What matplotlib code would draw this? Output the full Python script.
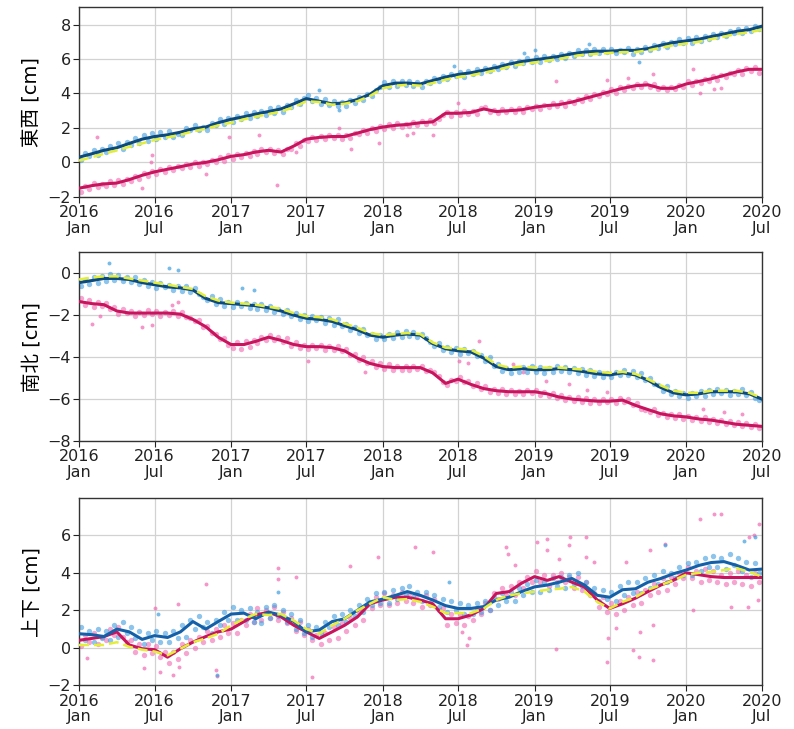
import numpy as np
import pandas as pd
import matplotlib
matplotlib.use("Agg")
import matplotlib.pyplot as plt

plt.rcParams['font.family'] = ['DejaVu Sans', 'Noto Sans CJK JP']

# monthly smoothed values, Jan 2016 .. Jul 2020
months = pd.date_range('2016-01-01', '2020-07-01', freq='MS')
# scattered daily solutions, sampled on the 5th, 15th and 25th, Jan 2016 .. Jun 2020
obs_dates = pd.DatetimeIndex([m + pd.Timedelta(days=d) for m in months[:-1] for d in (4, 14, 24)])

tick_dates = pd.date_range('2016-01-01', '2020-07-01', freq='6MS')
tick_labels = [f"{d.year}\n{d.strftime('%b')}" for d in tick_dates]

ylabels = ['東西 [cm]', '南北 [cm]', '上下 [cm]']

# ---- 東西 ----
ew_blue_line = [0.3, 0.5, 0.7, 0.85, 1.1, 1.35, 1.5, 1.6, 1.75, 1.95, 2.05, 2.3,
                2.5, 2.65, 2.8, 2.95, 3.1, 3.4, 3.7, 3.55, 3.4, 3.45, 3.65, 3.95,
                4.45, 4.6, 4.6, 4.55, 4.75, 4.95, 5.1, 5.2, 5.35, 5.5, 5.7, 5.85,
                5.95, 6.05, 6.15, 6.3, 6.4, 6.45, 6.45, 6.5, 6.5, 6.6, 6.8, 6.95,
                7.05, 7.15, 7.3, 7.45, 7.6, 7.7, 7.9]
ew_yellow_line = [0.1, 0.3, 0.5, 0.7, 0.9, 1.1, 1.3, 1.45, 1.6, 1.8, 1.95, 2.15,
                  2.3, 2.5, 2.65, 2.8, 2.95, 3.2, 3.55, 3.5, 3.35, 3.4, 3.55, 3.85,
                  4.3, 4.45, 4.5, 4.45, 4.6, 4.8, 4.95, 5.05, 5.2, 5.35, 5.55, 5.7,
                  5.8, 5.9, 6.0, 6.15, 6.25, 6.3, 6.35, 6.4, 6.4, 6.5, 6.65, 6.8,
                  6.9, 7.0, 7.15, 7.3, 7.45, 7.55, 7.7]
ew_pink_line = [-1.5, -1.35, -1.25, -1.2, -1.0, -0.75, -0.55, -0.4, -0.25, -0.1, 0.0, 0.15,
                0.35, 0.45, 0.6, 0.7, 0.6, 0.95, 1.35, 1.45, 1.5, 1.5, 1.7, 1.9,
                2.05, 2.15, 2.2, 2.3, 2.35, 2.85, 2.85, 2.9, 3.1, 2.95, 3.0, 3.05,
                3.2, 3.3, 3.35, 3.5, 3.7, 3.9, 4.1, 4.3, 4.45, 4.5, 4.3, 4.3,
                4.55, 4.7, 4.85, 5.05, 5.25, 5.4, 5.4]
ew_blue_pts = [0.15, 0.55, 0.35, 0.7, 0.45, 0.8, 0.6, 0.95, 0.75, 1.1, 0.8, 1.2, 1.0, 1.4, 1.15, 1.6, 1.25, 1.7,
               1.35, 1.75, 1.45, 1.8, 1.5, 1.65, 1.6, 2.0, 1.85, 2.15, 1.85, 2.05, 1.9, 2.3, 2.15, 2.5, 2.2, 2.6,
               2.35, 2.7, 2.5, 2.85, 2.55, 2.9, 2.7, 3.0, 2.75, 3.15, 2.85, 3.2, 2.95, 3.35, 3.2, 3.6, 3.4, 3.75,
               3.9, 3.55, 3.75, 3.4, 3.65, 3.35, 3.55, 3.25, 3.5, 3.3, 3.6, 3.45, 3.8, 3.6, 3.95, 3.85, 4.2, 4.35,
               4.65, 4.4, 4.7, 4.45, 4.75, 4.5, 4.7, 4.45, 4.65, 4.4, 4.7, 4.6, 4.9, 4.7, 5.0, 4.85, 5.15, 5.0,
               5.25, 4.95, 5.3, 5.1, 5.4, 5.2, 5.5, 5.3, 5.6, 5.4, 5.7, 5.55, 5.85, 5.6, 5.9, 5.75, 6.05, 5.85,
               6.1, 5.85, 6.15, 5.95, 6.2, 6.0, 6.3, 6.05, 6.35, 6.2, 6.5, 6.3, 6.55, 6.3, 6.6, 6.35, 6.6, 6.4,
               6.6, 6.35, 6.55, 6.4, 6.65, 6.3, 6.6, 6.4, 6.7, 6.5, 6.8, 6.65, 6.95, 6.7, 7.0, 6.85, 7.15, 6.95,
               7.2, 6.95, 7.25, 7.05, 7.35, 7.15, 7.45, 7.25, 7.5, 7.35, 7.65, 7.5, 7.75, 7.5, 7.8, 7.6, 7.9, 7.75]
ew_pink_pts = [-1.7, -1.35, -1.55, -1.2, -1.45, -1.25, -1.35, -1.1, -1.3, -1.05, -1.25, -0.95, -1.1, -0.8, -0.95, -0.6, -0.8, -0.5,
               -0.65, -0.4, -0.55, -0.25, -0.45, -0.2, -0.35, -0.1, -0.25, 0.0, -0.2, 0.05, -0.1, 0.15, 0.0, 0.3, 0.1, 0.4,
               0.2, 0.5, 0.3, 0.55, 0.35, 0.65, 0.5, 0.75, 0.6, 0.8, 0.55, 0.7, 0.5, 0.8, 0.75, 1.1, 0.95, 1.3,
               1.25, 1.5, 1.3, 1.55, 1.35, 1.6, 1.4, 1.6, 1.35, 1.6, 1.4, 1.7, 1.65, 1.85, 1.7, 2.0, 1.8, 2.1,
               1.95, 2.2, 2.0, 2.3, 2.05, 2.25, 2.1, 2.35, 2.15, 2.4, 2.2, 2.45, 2.3, 2.5, 2.75, 2.95, 2.7, 2.9,
               2.75, 3.0, 2.8, 3.0, 2.8, 3.15, 3.2, 2.95, 3.05, 2.85, 3.1, 2.9, 3.1, 2.9, 3.15, 2.95, 3.2, 3.1,
               3.3, 3.1, 3.35, 3.2, 3.45, 3.25, 3.5, 3.3, 3.55, 3.45, 3.7, 3.55, 3.85, 3.65, 3.95, 3.85, 4.1, 3.95,
               4.25, 4.05, 4.35, 4.2, 4.45, 4.3, 4.55, 4.35, 4.6, 4.4, 4.55, 4.25, 4.4, 4.2, 4.35, 4.25, 4.5, 4.4,
               4.7, 4.5, 4.75, 4.6, 4.85, 4.7, 5.0, 4.8, 5.05, 4.95, 5.2, 5.1, 5.35, 5.15, 5.45, 5.3, 5.55, 5.2]
ew_pink_out_dates = ['2016-02-14', '2016-06-25', '2016-06-22', '2016-06-01', '2016-12-28', '2016-11-01',
                     '2017-03-08', '2017-04-21', '2017-06-06', '2017-09-18', '2017-10-16', '2017-12-23',
                     '2018-02-27', '2018-03-15', '2018-05-01', '2018-07-01', '2019-02-22', '2019-06-25',
                     '2019-08-13', '2019-10-12', '2020-01-18', '2020-02-03', '2020-03-09', '2020-03-24']
ew_pink_out_vals = [1.5, 0.4, 0.0, -1.5, 1.5, -0.65, 1.6, -1.3, 0.6, 2.0, 0.8, 1.1,
                    1.6, 1.7, 1.6, 3.45, 4.7, 4.8, 4.9, 5.1, 5.4, 4.0, 4.25, 4.3]
ew_blue_out_dates = ['2017-08-01', '2017-09-18', '2018-06-21', '2018-12-07', '2019-01-01', '2019-05-12', '2019-09-10']
ew_blue_out_vals = [4.2, 3.05, 5.6, 6.35, 6.55, 6.85, 5.85]

# ---- 南北 ----
ns_blue_line = [-0.45, -0.35, -0.25, -0.25, -0.3, -0.45, -0.55, -0.65, -0.7, -0.8, -1.2, -1.4,
                -1.45, -1.5, -1.55, -1.65, -1.8, -2.0, -2.15, -2.2, -2.3, -2.5, -2.7, -2.95,
                -3.05, -2.95, -2.9, -2.95, -3.35, -3.6, -3.7, -3.75, -4.05, -4.45, -4.6, -4.55,
                -4.6, -4.6, -4.55, -4.6, -4.7, -4.8, -4.85, -4.75, -4.85, -5.1, -5.45, -5.7,
                -5.8, -5.75, -5.65, -5.65, -5.65, -5.75, -6.0]
ns_yellow_line = [-0.3, -0.2, -0.15, -0.15, -0.25, -0.35, -0.45, -0.55, -0.65, -0.75, -1.1, -1.3,
                  -1.4, -1.45, -1.5, -1.6, -1.7, -1.9, -2.05, -2.1, -2.2, -2.4, -2.6, -2.85,
                  -2.95, -2.9, -2.85, -2.9, -3.3, -3.55, -3.6, -3.65, -3.95, -4.35, -4.5, -4.45,
                  -4.5, -4.5, -4.5, -4.55, -4.6, -4.7, -4.75, -4.7, -4.8, -5.05, -5.35, -5.6,
                  -5.7, -5.7, -5.6, -5.6, -5.6, -5.7, -5.95]
ns_pink_line = [-1.35, -1.45, -1.5, -1.8, -1.9, -1.9, -1.9, -1.9, -1.95, -2.2, -2.55, -3.05,
                -3.4, -3.4, -3.25, -3.05, -3.2, -3.4, -3.5, -3.5, -3.55, -3.7, -4.05, -4.3,
                -4.45, -4.5, -4.5, -4.5, -4.75, -5.25, -5.05, -5.3, -5.5, -5.6, -5.65, -5.65,
                -5.65, -5.75, -5.9, -6.0, -6.05, -6.1, -6.1, -6.05, -6.3, -6.5, -6.7, -6.8,
                -6.85, -6.95, -7.0, -7.1, -7.2, -7.25, -7.3]
ns_blue_pts = [-0.6, -0.3, -0.5, -0.2, -0.45, -0.15, -0.35, -0.05, -0.3, -0.1, -0.35, -0.2, -0.4, -0.2, -0.5, -0.3, -0.6, -0.4,
               -0.7, -0.45, -0.65, -0.55, -0.8, -0.6, -0.85, -0.6, -0.9, -0.7, -1.0, -1.15, -1.3, -1.1, -1.45, -1.25, -1.55, -1.35,
               -1.6, -1.35, -1.55, -1.4, -1.65, -1.45, -1.7, -1.45, -1.75, -1.55, -1.85, -1.7, -1.95, -1.75, -2.05, -1.9, -2.2, -2.0,
               -2.3, -2.05, -2.25, -2.1, -2.35, -2.15, -2.45, -2.2, -2.5, -2.4, -2.7, -2.55, -2.85, -2.65, -2.95, -2.9, -3.15, -2.95,
               -3.15, -2.9, -3.1, -2.8, -3.05, -2.75, -3.0, -2.8, -3.05, -2.9, -3.1, -3.3, -3.45, -3.35, -3.65, -3.5, -3.75, -3.55,
               -3.85, -3.6, -3.8, -3.7, -3.95, -3.9, -4.2, -4.0, -4.4, -4.35, -4.65, -4.5, -4.75, -4.5, -4.7, -4.45, -4.7, -4.4,
               -4.7, -4.45, -4.75, -4.5, -4.7, -4.4, -4.65, -4.45, -4.7, -4.5, -4.75, -4.55, -4.85, -4.6, -4.9, -4.7, -4.95, -4.75,
               -4.95, -4.7, -4.85, -4.6, -4.85, -4.65, -4.95, -4.75, -5.1, -5.0, -5.3, -5.35, -5.6, -5.4, -5.75, -5.6, -5.85, -5.7,
               -5.95, -5.7, -5.85, -5.6, -5.85, -5.55, -5.75, -5.5, -5.7, -5.55, -5.8, -5.6, -5.75, -5.5, -5.8, -5.65, -5.95, -6.05]
ns_pink_pts = [-1.2, -1.5, -1.3, -1.6, -1.35, -1.55, -1.4, -1.7, -1.6, -1.95, -1.7, -1.9, -1.8, -2.05, -1.85, -2.0, -1.75, -1.95,
               -1.8, -2.05, -1.85, -2.0, -1.8, -2.05, -1.85, -2.1, -2.15, -2.3, -2.25, -2.55, -2.5, -2.85, -2.9, -3.15, -3.1, -3.4,
               -3.55, -3.3, -3.6, -3.25, -3.5, -3.2, -3.35, -3.05, -3.2, -2.95, -3.2, -3.05, -3.3, -3.1, -3.45, -3.3, -3.55, -3.4,
               -3.6, -3.4, -3.55, -3.4, -3.65, -3.45, -3.65, -3.45, -3.7, -3.6, -3.9, -3.85, -4.15, -4.0, -4.3, -4.2, -4.45, -4.3,
               -4.55, -4.35, -4.6, -4.4, -4.6, -4.4, -4.6, -4.4, -4.55, -4.4, -4.65, -4.6, -4.7, -4.9, -5.2, -5.35, -5.1, -5.15,
               -4.95, -5.2, -5.15, -5.4, -5.25, -5.5, -5.4, -5.65, -5.5, -5.7, -5.5, -5.75, -5.55, -5.75, -5.6, -5.75, -5.55, -5.7,
               -5.55, -5.8, -5.65, -5.85, -5.7, -5.95, -5.8, -6.05, -5.9, -6.1, -5.9, -6.15, -5.95, -6.2, -6.0, -6.2, -6.0, -6.15,
               -6.0, -6.2, -5.95, -6.15, -6.0, -6.3, -6.2, -6.45, -6.5, -6.6, -6.45, -6.75, -6.65, -6.85, -6.7, -6.9, -6.7, -6.95,
               -6.8, -7.0, -6.85, -7.05, -6.85, -7.1, -6.95, -7.15, -7.0, -7.2, -7.05, -7.25, -7.1, -7.3, -7.15, -7.35, -7.2, -7.4]
ns_pink_out_dates = ['2016-02-02', '2016-02-20', '2016-06-01', '2016-06-25', '2016-08-12', '2016-08-25',
                     '2017-07-06', '2017-11-20', '2018-07-04', '2018-07-25', '2018-08-20', '2018-11-10',
                     '2018-12-05', '2019-01-28', '2019-03-25', '2019-05-08', '2019-06-25', '2020-02-10',
                     '2020-04-01', '2020-05-15']
ns_pink_out_vals = [-2.4, -2.05, -2.55, -2.45, -1.5, -1.35, -4.2, -4.7, -4.2, -4.3, -3.25, -4.35,
                    -4.7, -5.15, -5.3, -5.55, -5.65, -6.45, -6.6, -6.7]
ns_blue_out_dates = ['2016-03-12', '2016-08-04', '2016-08-25', '2017-01-28', '2017-02-25']
ns_blue_out_vals = [0.5, 0.25, 0.15, -0.7, -0.8]

# ---- 上下 ----
ud_blue_line = [0.75, 0.7, 0.6, 1.0, 0.85, 0.45, 0.65, 0.55, 0.85, 1.4, 1.0, 1.4,
                1.8, 1.85, 1.55, 1.9, 1.75, 1.4, 0.85, 0.95, 1.4, 1.55, 2.0, 2.45,
                2.6, 2.8, 3.0, 2.8, 2.55, 2.25, 2.1, 2.1, 2.2, 2.55, 2.7, 3.0,
                3.25, 3.35, 3.5, 3.7, 3.35, 2.8, 2.7, 3.1, 3.15, 3.5, 3.7, 3.95,
                4.15, 4.4, 4.55, 4.6, 4.4, 4.15, 4.2]
ud_yellow_line = [0.15, 0.15, 0.15, 0.3, 0.05, -0.1, -0.2, -0.4, -0.05, 0.3, 0.5, 0.75,
                  1.2, 1.55, 1.8, 1.75, 1.8, 1.45, 1.0, 0.75, 1.2, 1.55, 2.0, 2.35,
                  2.7, 2.55, 2.6, 2.45, 2.2, 1.85, 1.85, 1.85, 2.1, 2.55, 2.8, 2.9,
                  3.0, 3.1, 3.15, 3.25, 3.0, 2.45, 2.1, 2.45, 2.7, 3.1, 3.35, 3.6,
                  3.9, 4.0, 4.05, 4.15, 4.25, 4.05, 3.8]
ud_pink_line = [0.4, 0.5, 0.6, 0.85, 0.15, -0.05, -0.1, -0.5, -0.05, 0.3, 0.6, 0.85,
                1.0, 1.4, 1.75, 1.9, 1.65, 1.2, 0.85, 0.5, 0.85, 1.2, 1.65, 2.35,
                2.55, 2.7, 2.7, 2.55, 2.35, 1.55, 1.55, 1.75, 2.1, 2.9, 3.0, 3.45,
                3.8, 3.6, 3.8, 3.5, 3.25, 2.55, 2.1, 2.35, 2.65, 3.0, 3.35, 3.6,
                4.0, 3.9, 3.8, 3.75, 3.75, 3.75, 3.75]
ud_blue_pts = [1.1, 0.4, 0.9, 0.3, 1.0, 0.5, 0.9, 0.4, 1.2, 0.6, 1.35, 0.8, 1.1, 0.5, 0.9, 0.2, 0.8, 0.4,
               0.9, 0.3, 0.8, 0.3, 0.9, 0.5, 1.2, 0.6, 1.5, 1.0, 1.7, 1.1, 1.4, 0.8, 1.5, 1.2, 1.9, 1.5,
               2.2, 1.5, 2.0, 1.5, 2.1, 1.4, 1.9, 1.3, 2.2, 1.6, 2.3, 1.7, 2.0, 1.4, 1.8, 1.0, 1.5, 0.8,
               1.2, 0.6, 1.1, 0.8, 1.4, 1.1, 1.7, 1.2, 1.8, 1.4, 2.0, 1.7, 2.3, 1.9, 2.6, 2.3, 2.9, 2.4,
               3.0, 2.4, 3.1, 2.6, 3.2, 2.8, 3.3, 2.7, 3.0, 2.5, 3.0, 2.4, 2.8, 2.2, 2.6, 1.9, 2.5, 2.0,
               2.4, 1.8, 2.3, 1.8, 2.4, 1.9, 2.5, 2.0, 2.7, 2.3, 2.9, 2.5, 3.0, 2.5, 3.2, 2.8, 3.4, 3.0,
               3.6, 3.0, 3.5, 3.1, 3.7, 3.3, 3.8, 3.2, 3.9, 3.4, 4.0, 3.3, 3.5, 2.9, 3.2, 2.5, 3.1, 2.6,
               3.0, 2.5, 3.3, 2.8, 3.5, 2.9, 3.5, 2.9, 3.7, 3.2, 3.9, 3.4, 4.1, 3.5, 4.0, 3.7, 4.3, 3.9,
               4.5, 3.9, 4.6, 4.1, 4.8, 4.3, 4.9, 4.3, 4.8, 4.2, 5.0, 4.4, 4.8, 4.1, 4.6, 3.8, 4.5, 4.0]
ud_pink_pts = [0.1, 0.7, 0.3, 0.8, 0.2, 0.6, 0.4, 1.0, 0.7, 1.1, 0.6, 0.3, 0.4, -0.2, 0.2, -0.4, 0.2, -0.3,
               0.1, -0.5, -0.2, -0.8, -0.2, -0.6, 0.2, -0.3, 0.4, 0.0, 0.6, 0.3, 0.9, 0.4, 1.0, 0.6, 1.2, 0.8,
               1.3, 0.8, 1.5, 1.2, 1.8, 1.4, 2.1, 1.5, 2.0, 1.6, 2.2, 1.5, 1.9, 1.3, 1.6, 0.9, 1.4, 0.7,
               1.0, 0.4, 0.7, 0.2, 0.8, 0.4, 1.1, 0.5, 1.3, 0.9, 1.6, 1.2, 1.9, 1.5, 2.3, 2.1, 2.7, 2.3,
               2.9, 2.3, 2.8, 2.4, 3.0, 2.5, 2.9, 2.4, 2.8, 2.2, 2.8, 2.3, 2.6, 2.0, 2.1, 1.2, 1.8, 1.3,
               1.8, 1.2, 1.7, 1.5, 2.1, 1.8, 2.4, 2.0, 2.9, 2.6, 3.2, 2.8, 3.3, 2.8, 3.5, 3.2, 3.8, 3.5,
               4.1, 3.5, 3.9, 3.3, 3.9, 3.5, 4.0, 3.5, 3.8, 3.2, 3.8, 3.1, 3.5, 2.8, 2.9, 2.2, 2.7, 1.9,
               2.4, 1.8, 2.5, 2.0, 2.7, 2.3, 3.0, 2.4, 3.1, 2.8, 3.4, 3.0, 3.7, 3.1, 3.8, 3.4, 4.0, 3.7,
               4.3, 3.7, 4.1, 3.5, 4.2, 3.6, 4.1, 3.5, 3.9, 3.4, 4.0, 3.5, 4.1, 3.4, 3.9, 3.3, 4.0, 3.5]
ud_pink_out_dates = ['2016-01-20', '2016-06-05', '2016-07-01', '2016-07-15', '2016-08-13', '2016-08-25',
                     '2016-08-28', '2016-11-01', '2016-11-25', '2016-11-27', '2017-04-24', '2017-04-25',
                     '2017-06-06', '2017-07-15', '2017-10-15', '2017-12-21', '2018-03-19', '2018-05-01',
                     '2018-07-10', '2018-07-23', '2018-07-28', '2018-10-24', '2018-10-30', '2018-11-15',
                     '2019-01-07', '2019-01-30', '2019-02-01', '2019-02-21', '2019-03-01', '2019-03-25',
                     '2019-03-28', '2019-05-04', '2019-05-06', '2019-05-25', '2019-06-25', '2019-06-26',
                     '2019-07-15', '2019-08-10', '2019-08-25', '2019-09-10', '2019-09-12', '2019-10-05',
                     '2019-10-12', '2019-10-14', '2019-11-10', '2020-01-18', '2020-02-03', '2020-03-09',
                     '2020-03-24', '2020-04-18', '2020-05-28', '2020-06-01', '2020-06-12', '2020-06-22',
                     '2020-06-25']
ud_pink_out_vals = [-0.55, -1.1, 2.1, -1.3, -1.45, 2.35, -1.0, 3.4, -1.2, -1.5, 4.25, 3.65,
                    3.8, -1.55, 4.35, 4.85, 5.4, 5.1, 0.85, 0.15, 0.5, 5.4, 5.0, 4.4,
                    5.65, 5.2, 5.8, -0.05, 4.75, 5.5, 5.9, 5.9, 4.85, 4.6, -0.75, 0.5,
                    1.05, 4.6, -0.1, -0.5, 0.85, 5.2, -0.65, 1.2, 5.55, 2.0, 6.9, 7.15,
                    7.15, 2.2, 2.2, 5.9, 6.0, 2.55, 6.6]
ud_blue_out_dates = ['2016-07-10', '2016-11-27', '2017-04-24', '2018-06-10', '2019-11-12', '2020-05-20', '2020-06-15']
ud_blue_out_vals = [1.8, -1.45, 3.0, 3.5, 5.5, 5.7, 5.9]

# ---- drawing ----
C_BLUE_PT = '#3f9ee0'
C_PINK_PT = '#f06ab2'
C_BLUE_LN = ['#0c4a7c', '#0c4a7c', '#1460a8']
C_PINK_LN = '#c8145c'
C_YELLOW = '#e4ee3a'

panels = [
    (ew_blue_pts, ew_pink_pts, ew_blue_line, ew_pink_line, ew_yellow_line,
     ew_blue_out_dates, ew_blue_out_vals, ew_pink_out_dates, ew_pink_out_vals),
    (ns_blue_pts, ns_pink_pts, ns_blue_line, ns_pink_line, ns_yellow_line,
     ns_blue_out_dates, ns_blue_out_vals, ns_pink_out_dates, ns_pink_out_vals),
    (ud_blue_pts, ud_pink_pts, ud_blue_line, ud_pink_line, ud_yellow_line,
     ud_blue_out_dates, ud_blue_out_vals, ud_pink_out_dates, ud_pink_out_vals),
]
ylims = [(-2, 9), (-8, 1), (-2, 8)]
yticks = [np.arange(-2, 9, 2), np.arange(-8, 1, 2), np.arange(-2, 7, 2)]
# axes boxes in figure fractions (left, bottom, width, height)
boxes = [(0.0995, 0.730, 0.860, 0.260),
         (0.0995, 0.395, 0.860, 0.259),
         (0.0995, 0.060, 0.860, 0.257)]

fig = plt.figure(figsize=(7.94, 7.29), dpi=100)

for i, (bp, pp, bl, pl, yl, bod, bov, pod, pov) in enumerate(panels):
    ax = fig.add_axes(boxes[i])
    ax.scatter(obs_dates, pp, s=15, color=C_PINK_PT, alpha=0.6, lw=0, zorder=2)
    ax.scatter(pd.to_datetime(pod), pov, s=8, color=C_PINK_PT, alpha=0.7, lw=0, zorder=2)
    ax.scatter(obs_dates, bp, s=15, color=C_BLUE_PT, alpha=0.6, lw=0, zorder=2)
    ax.scatter(pd.to_datetime(bod), bov, s=8, color=C_BLUE_PT, alpha=0.7, lw=0, zorder=2)
    ax.plot(months, pl, color=C_PINK_LN, lw=2.2, zorder=3)
    ax.plot(months, bl, color=C_BLUE_LN[i], lw=2.2, zorder=4)
    ax.plot(months, yl, color=C_YELLOW, lw=1.8, ls=(0, (4, 2)), zorder=5)

    ax.set_xlim(tick_dates[0], tick_dates[-1])
    ax.set_ylim(*ylims[i])
    ax.set_yticks(yticks[i])
    ax.set_xticks(tick_dates)
    ax.set_xticklabels(tick_labels, linespacing=1.05)
    ax.tick_params(labelsize=11.5, colors='#222222', length=4, pad=2)
    ax.grid(True, color='#d2d2d2', lw=0.9)
    ax.set_axisbelow(True)
    for s in ax.spines.values():
        s.set_color('#333333')
        s.set_linewidth(1.0)
    ax.set_ylabel(ylabels[i], fontsize=14, labelpad=4)

fig.savefig('out.png', dpi=100)
